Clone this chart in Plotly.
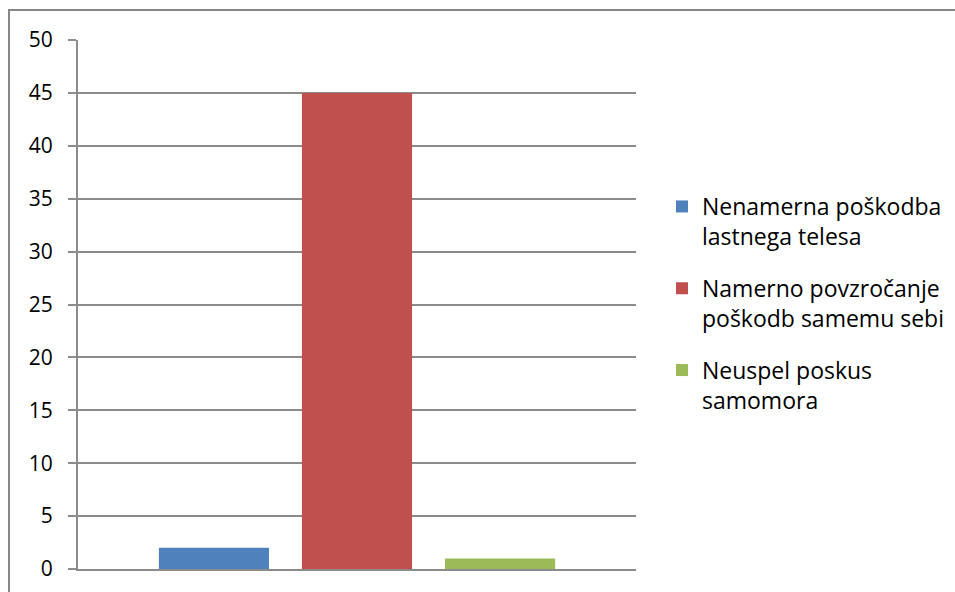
import plotly.graph_objects as go

# Chart data
series_names = [
    "Nenamerna poškodba<br>lastnega telesa",
    "Namerno povzročanje<br>poškodb samemu sebi",
    "Neuspel poskus<br>samomora",
]
series_values = [2, 45, 1]
series_colors = ["#4F81BD", "#C0504D", "#9BBB59"]
category = [""]
y_ticks = [0, 5, 10, 15, 20, 25, 30, 35, 40, 45, 50]

FONT = "Open Sans, Lato, sans-serif"
GRID = "#8c8c8c"

fig = go.Figure()
for i, (name, val, col) in enumerate(zip(series_names, series_values, series_colors)):
    fig.add_trace(go.Bar(
        x=category, y=[val], name=name,
        marker=dict(color=col, line=dict(width=0)),
        legendgroup=f"g{i}",
        hoverinfo="skip",
    ))

# plot area: x 78..636, y 40..569 in a 955x592 page
L, R, T, B = 78, 955 - 636, 40, 592 - 569
W, H = 955 - L - R, 592 - T - B

def px_x(p):
    return (p - L) / W

def px_y(p):
    return (592 - B - p) / H

fig.update_layout(
    width=955, height=592,
    margin=dict(l=L, r=R, t=T, b=B, pad=0, autoexpand=False),
    paper_bgcolor="white", plot_bgcolor="white",
    barmode="group", bargap=0.231, bargroupgap=0.23,
    font=dict(family=FONT, color="#000000"),
    showlegend=True,
    legend=dict(
        x=px_x(662), y=px_y(185), xanchor="left", yanchor="top",
        font=dict(family=FONT, size=23, color="#000000"),
        valign="top", tracegroupgap=19, traceorder="grouped",
        bgcolor="rgba(0,0,0,0)",
    ),
    xaxis=dict(
        showticklabels=False, ticks="", showgrid=False,
        showline=True, linecolor=GRID, linewidth=2,
        zeroline=False, fixedrange=True,
    ),
    yaxis=dict(
        range=[0, 50], tickvals=y_ticks, ticktext=[str(v) for v in y_ticks],
        showgrid=True, gridcolor=GRID, gridwidth=1.5,
        showline=True, linecolor=GRID, linewidth=2,
        ticks="outside", ticklen=8, tickcolor=GRID, tickwidth=1.5,
        ticklabelstandoff=11,
        tickfont=dict(family=FONT, size=21, color="#000000"),
        zeroline=False, fixedrange=True,
    ),
    shapes=[dict(
        type="rect", xref="paper", yref="paper",
        x0=px_x(9), x1=px_x(980), y0=px_y(620), y1=px_y(10),
        line=dict(color="#878787", width=2), fillcolor="rgba(0,0,0,0)",
        layer="below",
    )],
)

fig.write_html("out.html")
